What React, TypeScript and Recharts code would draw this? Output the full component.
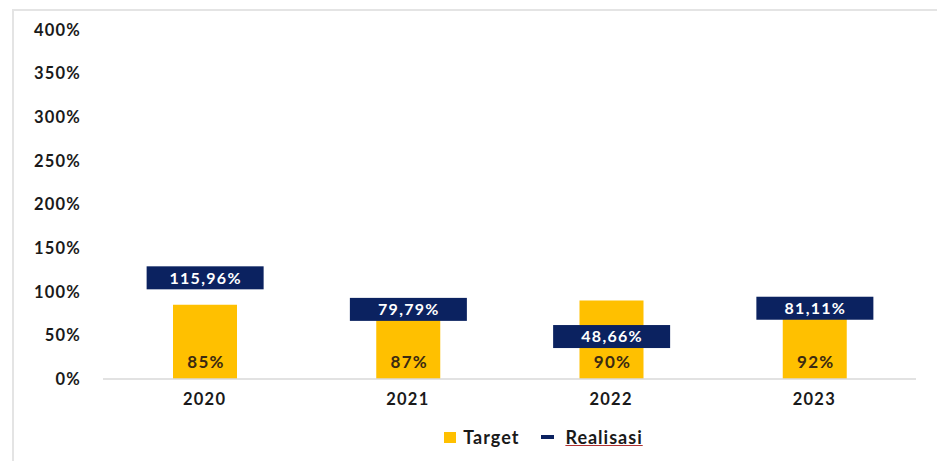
import React from "react";
import {
  ComposedChart,
  Bar,
  Line,
  XAxis,
  YAxis,
  Legend,
  LabelList,
} from "recharts";

const years = ["2020", "2021", "2022", "2023"];
const target = [85, 87, 90, 92];
const realisasi = [115.96, 79.79, 48.66, 81.11];
const yTicks = [0, 50, 100, 150, 200, 250, 300, 350, 400];

const YELLOW = "#FFC000";
const NAVY = "#0B2260";
const FONT = "Lato, 'Open Sans', sans-serif";

const data = years.map((year, i) => ({
  year,
  target: target[i],
  realisasi: realisasi[i],
}));

const fmt = (v: number) => v.toFixed(2).replace(".", ",") + "%";

function RealisasiDot(props: any) {
  const { cx, cy, value, index } = props;
  if (cx == null || cy == null) return <g key={index} />;
  return (
    <g key={`dot-${index}`}>
      <rect x={cx - 58} y={cy - 11.5} width={117} height={23} fill={NAVY} />
      <text
        x={cx + 1}
        y={cy}
        dy="0.36em"
        textAnchor="middle"
        fill="#ffffff"
        fontFamily={FONT}
        fontWeight={700}
        fontSize={16}
        style={{ letterSpacing: 1.3 }}
      >
        {fmt(value)}
      </text>
    </g>
  );
}

function TargetLabel(props: any) {
  const { x, y, width, height, value } = props;
  return (
    <text
      x={x + width / 2 + 1}
      y={y + height - 17}
      dy="0.36em"
      textAnchor="middle"
      fill="#3b2a12"
      fontFamily={FONT}
      fontWeight={700}
      fontSize={17}
      style={{ letterSpacing: 1.3 }}
    >
      {value}%
    </text>
  );
}

function LegendContent() {
  return (
    <div
      style={{
        display: "flex",
        justifyContent: "center",
        alignItems: "center",
        fontFamily: FONT,
        fontWeight: 700,
        fontSize: 18,
        letterSpacing: 1,
        color: "#1a1a1a",
        paddingLeft: 158,
        height: 30,
      }}
    >
      <span
        style={{
          display: "inline-block",
          width: 12,
          height: 11,
          background: YELLOW,
          marginRight: 7,
        }}
      />
      <span style={{ marginRight: 22 }}>Target</span>
      <span
        style={{
          display: "inline-block",
          width: 13,
          height: 4,
          background: NAVY,
          marginRight: 11,
        }}
      />
      <span
        style={{
          textDecoration: "underline",
          textDecorationColor: "#b03030",
        }}
      >
        Realisasi
      </span>
    </div>
  );
}

const tickStyle = {
  fill: "#1a1a1a",
  fontFamily: FONT,
  fontWeight: 700,
  fontSize: 16.5,
  letterSpacing: 1.2,
};

export default function App() {
  return (
    <div
      style={{
        position: "absolute",
        left: 0,
        top: 0,
        width: 937,
        height: 461,
        background: "#ffffff",
      }}
    >
      <div
        style={{
          position: "absolute",
          left: 12,
          top: 9,
          width: 940,
          height: 470,
          borderLeft: "2px solid #e4e4e4",
          borderTop: "2px solid #e4e4e4",
        }}
      />
      <ComposedChart
        width={937}
        height={461}
        data={data}
        margin={{ top: 30, right: 21, bottom: 9, left: 13 }}
        barCategoryGap={0}
      >
        <XAxis
          dataKey="year"
          tickLine={false}
          tickSize={0}
          tickMargin={14}
          height={43}
          axisLine={{ stroke: "#d9d9d9", strokeWidth: 1.5 }}
          tick={tickStyle}
        />
        <YAxis
          domain={[0, 400]}
          ticks={yTicks}
          tickFormatter={(v) => `${v}%`}
          axisLine={false}
          tickLine={false}
          tickSize={0}
          tickMargin={22}
          width={90}
          tick={tickStyle}
        />
        <Legend verticalAlign="bottom" height={30} content={<LegendContent />} />
        <Bar
          dataKey="target"
          name="Target"
          fill={YELLOW}
          barSize={64}
          isAnimationActive={false}
        >
          <LabelList dataKey="target" content={<TargetLabel />} />
        </Bar>
        <Line
          dataKey="realisasi"
          name="Realisasi"
          stroke="none"
          dot={RealisasiDot}
          activeDot={false}
          isAnimationActive={false}
        />
      </ComposedChart>
    </div>
  );
}
